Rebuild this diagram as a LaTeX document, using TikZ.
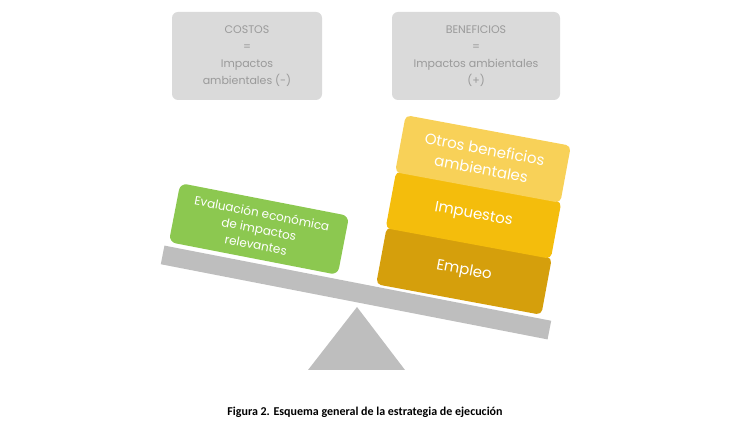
\documentclass[tikz,border=0pt]{standalone}
\usepackage{fontspec}
\setmainfont{Poppins}
\newfontfamily\capfont{Carlito}
\definecolor{boxgray}{HTML}{DADADA}
\definecolor{txtgray}{HTML}{9A9A9A}
\definecolor{beamgray}{HTML}{BEBEBE}
\definecolor{grn}{HTML}{8CC850}
\definecolor{ylw1}{HTML}{F8D158}
\definecolor{ylw2}{HTML}{F4BD0C}
\definecolor{ylw3}{HTML}{D59F0C}
\begin{document}
\begin{tikzpicture}[x=1pt,y=1pt,
  topbox/.style={fill=boxgray,rounded corners=6pt,minimum height=88pt,text=txtgray,align=center,font=\fontsize{11}{17}\selectfont},
  stackbox/.style={rounded corners=5pt,minimum width=168pt,minimum height=58pt,text=white,align=center,font=\fontsize{15}{20}\selectfont,rotate=-10.5}]
\useasboundingbox (0,0) rectangle (730,430);
\node[topbox,minimum width=150pt] (costos) at (247,374) {COSTOS\\=\\Impactos\\ambientales (-)};
\node[topbox,minimum width=168pt] (benef) at (476,374) {BENEFICIOS\\=\\Impactos ambientales\\(+)};
\fill[beamgray] (357,123) -- (308,60) -- (405,60) -- cycle;
\node[fill=beamgray,minimum width=394pt,minimum height=19pt,inner sep=0,rotate=-11] (beam) at (356,137.5) {};
\node[fill=grn,rounded corners=7pt,minimum width=172pt,minimum height=60pt,inner sep=2pt,text=white,align=center,rotate=-11,font=\fontsize{12}{16}\selectfont] (eval) at (259,201) {Evaluación económica\\de impactos\\relevantes};
\node[stackbox,fill=ylw3] (empleo) at (464,159) {Empleo};
\node[stackbox,fill=ylw2] (imp) at (473.5,215) {Impuestos};
\node[stackbox,fill=ylw1,inner sep=2pt] (otros) at (483,271) {Otros beneficios\\ambientales};
\node[font=\capfont\bfseries\fontsize{12}{14}\selectfont] (cap) at (365,18) {Figura 2. Esquema general de la estrategia de ejecución};
\end{tikzpicture}
\end{document}
